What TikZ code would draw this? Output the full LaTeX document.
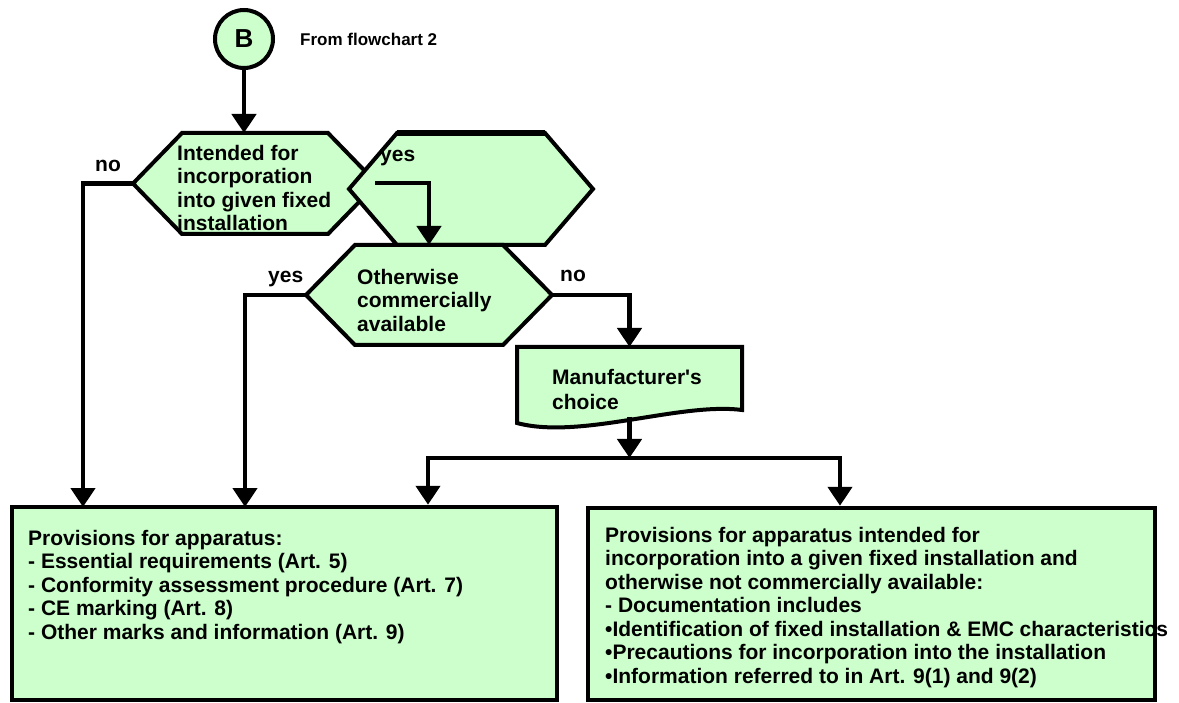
\documentclass[tikz,border=0pt]{standalone}
\usepackage{fontspec}
\setmainfont{Liberation Sans}[Ligatures=TeXOff]
\usetikzlibrary{arrows.meta,calc}
\definecolor{pale}{RGB}{204,255,204}
\begin{document}
\begin{tikzpicture}[x=1pt,y=-1pt,
  shp/.style={draw=black, fill=pale, line width=4pt, line join=miter},
  geom/.style={draw=none, inner sep=0pt, outer sep=0pt},
  tipa/.tip={Triangle[length=19pt,width=24pt]},
  conn/.style={line width=4.5pt, -tipa},
  lbl/.style={font=\fontsize{21}{23.5}\selectfont\bfseries, inner sep=0pt, anchor=base west},
  txt/.style={font=\fontsize{21}{23.5}\selectfont\bfseries, inner sep=0pt, align=left, anchor=north west}]
\useasboundingbox (0,0) rectangle (1179,703);

% geometry holders
\node[geom, minimum width=244pt, minimum height=101pt] (h1) at (255,183.5) {};
\node[geom, minimum width=244pt, minimum height=112pt] (h2) at (471,189) {};
\node[geom, minimum width=246pt, minimum height=100pt] (h3) at (429,295) {};
\node[geom, minimum width=225pt, minimum height=71pt] (doc) at (629.5,382.5) {};

% hexagon 1
\draw[shp] (h1.west) -- ($(h1.north west)+(49,0)$) -- ($(h1.north east)+(-49,0)$) -- (h1.east)
  -- ($(h1.south east)+(-49,0)$) -- ($(h1.south west)+(49,0)$) -- cycle;
% hexagon 2
\draw[shp] (h2.west) -- ($(h2.north west)+(48,0)$) -- ($(h2.north east)+(-48,0)$) -- (h2.east)
  -- ($(h2.south east)+(-48,0)$) -- ($(h2.south west)+(48,0)$) -- cycle;
\draw[line width=6pt] ($(h2.north west)+(48,0)$) -- ($(h2.north east)+(-48,0)$);
% hexagon 3
\draw[shp] (h3.west) -- ($(h3.north west)+(49,0)$) -- ($(h3.north east)+(-49,0)$) -- (h3.east)
  -- ($(h3.south east)+(-49,0)$) -- ($(h3.south west)+(49,0)$) -- cycle;
% document shape
\draw[shp] (doc.north west) -- (doc.north east) -- (742,410)
  .. controls (680,402) and (580,440) .. (517,423) -- cycle;

% start connector
\node[shp, circle, minimum size=58pt, inner sep=0pt, font=\fontsize{26}{26}\selectfont\bfseries] (B) at (244,39) {B};
\node[lbl, font=\fontsize{17}{17}\selectfont\bfseries] (from) at (300,46) {From flowchart 2};

% boxes
\node[shp, line width=4.5pt, minimum width=545pt, minimum height=193pt, inner sep=0pt] (lbox) at (284.5,603.5) {};
\node[shp, line width=4.5pt, minimum width=567pt, minimum height=192pt, inner sep=0pt] (rbox) at (871.5,604) {};

% texts
\node[txt] (t1) at (177,145) {Intended for\\incorporation\\into given fixed\\installation};
\node[txt] (t3) at (357,269) {Otherwise\\commercially\\available};
\node[txt, font=\fontsize{21}{25}\selectfont\bfseries] (td) at (552,369) {Manufacturer's\\choice};
\node[txt] (tl) at (28,530) {Provisions for apparatus:\\- Essential requirements (Art. 5)\\- Conformity assessment procedure (Art. 7)\\- CE marking (Art. 8)\\- Other marks and information (Art. 9)};
\node[txt] (tr) at (605,527) {Provisions for apparatus intended for\\incorporation into a given fixed installation and\\otherwise not commercially available:\\- Documentation includes\\•Identification of fixed installation \& EMC characteristics\\•Precautions for incorporation into the installation\\•Information referred to in Art. 9(1) and 9(2)};

% labels
\node[lbl] (no1) at (95,171.5) {no};
\node[lbl] (yes1) at (380,161.5) {yes};
\node[lbl] (yes2) at (268,282.5) {yes};
\node[lbl] (no2) at (560,281.5) {no};

% connectors
\coordinate (ys) at (375,183);
\coordinate (nl) at (83,507);
\coordinate (yl) at (245,507);
\coordinate (split) at (629.5,458);
\coordinate (sl) at (428,458);
\coordinate (sr) at (840,458);

\draw[conn] (B.south) -- (B.south |- h1.north);
\draw[conn] (h1.west) -| (nl);
\draw[conn] (ys) -| (h3.north);
\draw[conn] (h3.west) -| (yl);
\draw[conn] (h3.east) -| (doc.north);
\draw[conn] ($(doc.south)+(0,-1)$) -- (split);
\draw[line width=4.5pt, tipa-tipa] (sl |- lbox.north) -- (sl) -- (sr) -- (sr |- rbox.north);
\end{tikzpicture}
\end{document}
